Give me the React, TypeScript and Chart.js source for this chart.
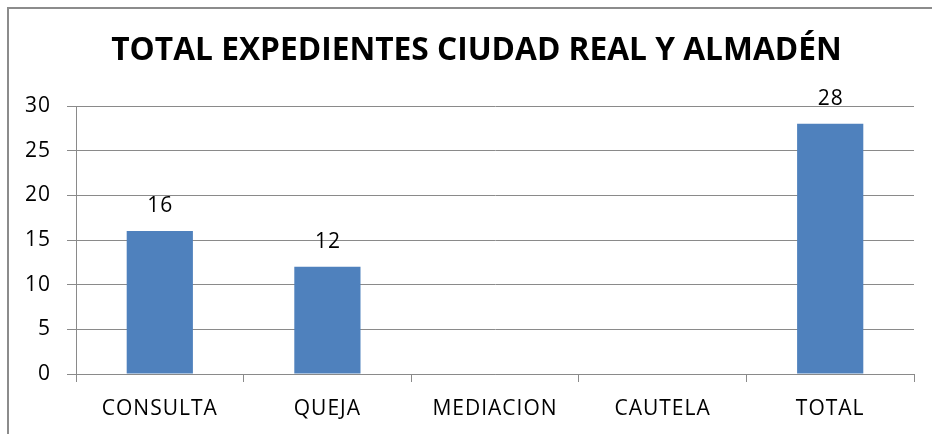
import React, { useEffect, useRef } from "react";
import { Chart, registerables } from "chart.js";

Chart.register(...registerables);

const titleText = "TOTAL EXPEDIENTES CIUDAD REAL Y ALMADÉN";
const categories = ["CONSULTA", "QUEJA", "MEDIACION", "CAUTELA", "TOTAL"];
const values = [16, 12, 0, 0, 28];
const yTicks = [0, 5, 10, 15, 20, 25, 30];

const FONT = "'Open Sans'";
const GRID = "#8a8a8a";

const spacing = {
  id: "spacing",
  beforeUpdate(chart: any) {
    chart.ctx.letterSpacing = "1px";
  },
  beforeDraw(chart: any) {
    chart.ctx.letterSpacing = "1px";
  },
};

const valueLabels = {
  id: "valueLabels",
  afterDatasetsDraw(chart: any) {
    const ctx = chart.ctx;
    const meta = chart.getDatasetMeta(0);
    ctx.save();
    ctx.letterSpacing = "1px";
    ctx.font = `21px ${FONT}`;
    ctx.fillStyle = "#000";
    ctx.textAlign = "center";
    ctx.textBaseline = "alphabetic";
    meta.data.forEach((bar: any, i: number) => {
      const v = values[i];
      if (!v) return;
      ctx.fillText(String(v), bar.x + 0.5, bar.y - 19);
    });
    ctx.restore();
  },
};

const chartTitle = {
  id: "chartTitle",
  afterDraw(chart: any) {
    const ctx = chart.ctx;
    ctx.save();
    ctx.letterSpacing = "0px";
    ctx.font = `bold 31.7px ${FONT}`;
    ctx.fillStyle = "#000";
    ctx.textAlign = "center";
    ctx.textBaseline = "alphabetic";
    ctx.fillText(titleText, chart.width / 2 + 10.5, 60);
    ctx.restore();
  },
};

export default function App() {
  const ref = useRef<HTMLCanvasElement | null>(null);
  useEffect(() => {
    if (!ref.current) return;
    const chart = new Chart(ref.current, {
      type: "bar",
      data: {
        labels: categories,
        datasets: [
          {
            data: values,
            backgroundColor: "#4F81BD",
            barPercentage: 0.79,
            categoryPercentage: 0.5,
          },
        ],
      },
      plugins: [spacing, valueLabels, chartTitle],
      options: {
        animation: false,
        responsive: false,
        maintainAspectRatio: false,
        layout: { padding: { left: 0, right: 18, top: 106, bottom: 0 } },
        plugins: {
          legend: { display: false },
          tooltip: { enabled: false },
          title: { display: false },
        },
        scales: {
          x: {
            afterFit: (s: any) => {
              s.height = 60;
            },
            grid: {
              display: true,
              drawOnChartArea: false,
              drawTicks: true,
              tickLength: 8,
              color: GRID,
              offset: true,
            },
            border: { display: true, color: GRID, width: 1 },
            ticks: {
              color: "#000",
              font: { family: FONT, size: 21 },
              padding: 14,
              maxRotation: 0,
            },
          },
          y: {
            min: 0,
            max: 30,
            afterFit: (s: any) => {
              s.width = 76;
            },
            afterBuildTicks: (s: any) => {
              s.ticks = yTicks.map((v) => ({ value: v }));
            },
            grid: { color: GRID, tickLength: 9, lineWidth: 1 },
            border: { display: true, color: GRID, width: 1 },
            ticks: {
              color: "#000",
              font: { family: FONT, size: 21 },
              padding: 16,
            },
          },
        },
      },
    });
    return () => chart.destroy();
  }, []);
  return (
    <div style={{ position: "absolute", left: 0, top: 0, width: 932, height: 434, overflow: "hidden", background: "#fff" }}>
      <div
        style={{
          position: "absolute",
          left: 7,
          top: 7,
          width: 960,
          height: 460,
          borderLeft: "2px solid #8c8c8c",
          borderTop: "2px solid #8c8c8c",
          boxSizing: "border-box",
        }}
      />
      <canvas ref={ref} width={932} height={434} style={{ position: "absolute", left: 0, top: 0, width: 932, height: 434 }} />
    </div>
  );
}
